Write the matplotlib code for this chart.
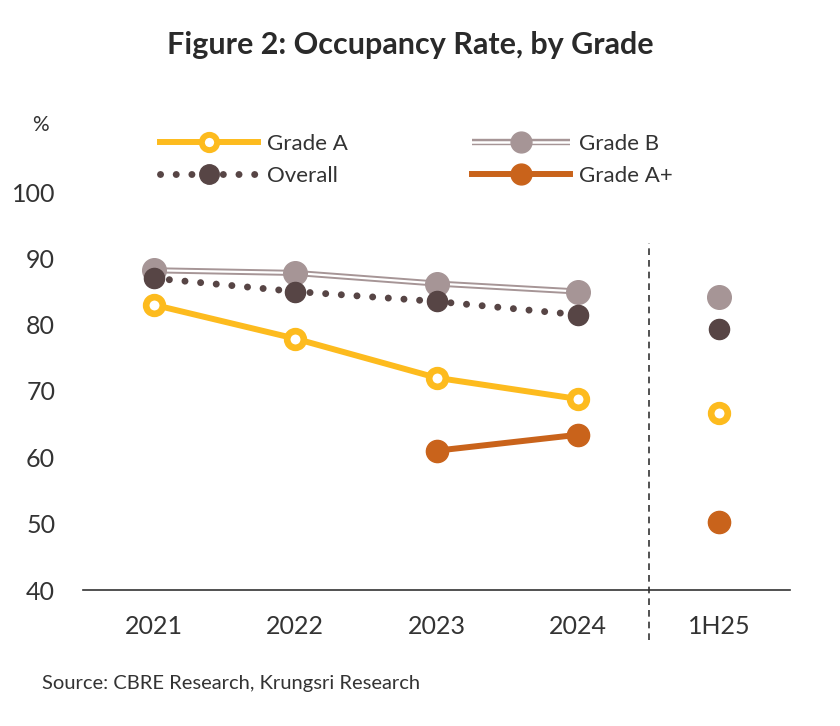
import numpy as np
import matplotlib
matplotlib.use("Agg")
import matplotlib.pyplot as plt
from matplotlib.lines import Line2D

plt.rcParams['font.family'] = ['Lato', 'DejaVu Sans']

periods = ['2021', '2022', '2023', '2024', '1H25']
grade_a = [83.0, 77.9, 72.0, 68.8, 66.7]
grade_b = [88.2, 87.8, 86.2, 85.0, 84.1]
overall = [87.0, 85.0, 83.5, 81.5, 79.4]
grade_a_plus = [np.nan, np.nan, 61.0, 63.4, 50.3]
yticks = [40, 50, 60, 70, 80, 90, 100]

C_A = '#FDBB1E'
C_B = '#A69596'
C_O = '#574545'
C_AP = '#C9631B'
TXT = '#333333'

DOT = (0, (0.01, 2.25))

fig = plt.figure(figsize=(8.4, 7.26), dpi=100)
ax = fig.add_axes([83/840, 1-590/726, 707/840, 398/726])

x = np.arange(len(periods))
xl = x[:4]

# Grade B double line
ax.plot(xl, grade_b[:4], color=C_B, lw=4.4, solid_capstyle='butt', zorder=2)
ax.plot(xl, grade_b[:4], color='white', lw=1.6, solid_capstyle='butt', zorder=2.1)
ax.plot(x, grade_b, ls='none', marker='o', ms=17, color=C_B, mec=C_B, zorder=2.2)

# Overall dotted
ax.plot(xl, overall[:4], color=C_O, lw=5, ls=DOT, dash_capstyle='round', zorder=3)
ax.plot(x, overall, ls='none', marker='o', ms=14.5, color=C_O, mec=C_O, zorder=3.2)

# Grade A
ax.plot(xl, grade_a[:4], color=C_A, lw=4.3, zorder=4)
ax.plot(x, grade_a, ls='none', marker='o', ms=12, mfc='white', mec=C_A, mew=4.8, zorder=4.2)

# Grade A+
ax.plot(xl, grade_a_plus[:4], color=C_AP, lw=4.3, zorder=5)
ax.plot(x, grade_a_plus, ls='none', marker='o', ms=16, color=C_AP, mec=C_AP, zorder=5.2)

# Divider
ax.axvline(3.5, ymin=-0.125, ymax=0.872, color='#333333', lw=1.2, ls=(0, (4, 3)), clip_on=False, zorder=1)

ax.set_xlim(-0.5, 4.5)
ax.set_ylim(40, 100)
ax.set_yticks(yticks)
ax.set_xticks(x)
ax.set_xticklabels(periods)
ax.tick_params(axis='both', length=0, labelsize=18, colors=TXT)
ax.tick_params(axis='y', pad=20)
ax.tick_params(axis='x', pad=18)
for s in ['top', 'right', 'left']:
    ax.spines[s].set_visible(False)
ax.spines['bottom'].set_color('#333333')
ax.spines['bottom'].set_linewidth(1.2)

# Legend
h_a = Line2D([], [], color=C_A, lw=4.3, marker='o', ms=11, mfc='white', mec=C_A, mew=4.3)
h_o = Line2D([], [], color=C_O, lw=5, ls=DOT, dash_capstyle='round', marker='o', ms=14, mfc=C_O, mec=C_O)
h_b1 = Line2D([], [], color=C_B, lw=4.6, solid_capstyle='butt')
h_b2 = Line2D([], [], color='white', lw=1.8)
h_b3 = Line2D([], [], ls='none', marker='o', ms=15, color=C_B)
h_ap = Line2D([], [], color=C_AP, lw=4.3, marker='o', ms=15)
leg = fig.legend([h_a, h_o, (h_b1, h_b2, h_b3), h_ap], ['Grade A', 'Overall', 'Grade B', 'Grade A+'],
                 ncol=2, loc='upper left', bbox_to_anchor=(160/840, 1-134/726),
                 frameon=False, fontsize=16, handlelength=4.4, handletextpad=0.4,
                 columnspacing=5.6, labelspacing=0.55, borderpad=0, borderaxespad=0,
                 numpoints=1, labelcolor=TXT)

fig.text(0.489, 1-45/726, 'Figure 2: Occupancy Rate, by Grade', ha='center', va='center',
         fontsize=22, fontweight='bold', color='#2a2a2a')
fig.text(40/840, 1-125/726, '%', ha='center', va='center', fontsize=15, color=TXT)
fig.text(42/840, 1-683/726, 'Source: CBRE Research, Krungsri Research', ha='left', va='center',
         fontsize=14.5, color=TXT)

fig.savefig('out.png', dpi=100)
